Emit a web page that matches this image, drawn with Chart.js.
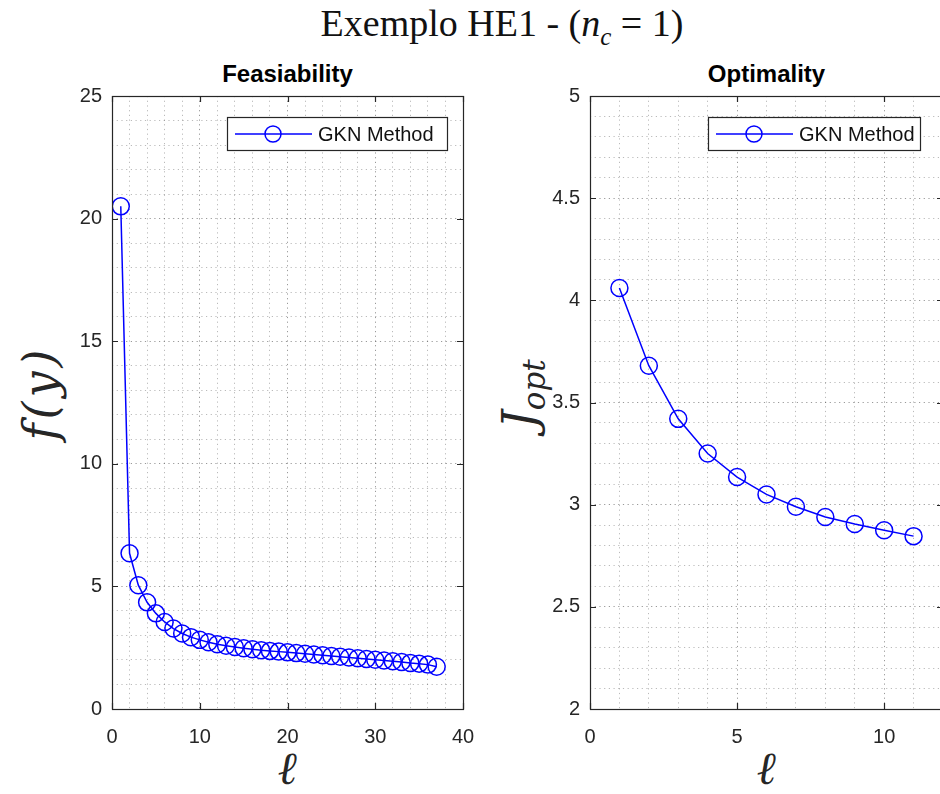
<!DOCTYPE html>
<html>
<head>
<meta charset="utf-8">
<script src="https://cdn.jsdelivr.net/npm/chart.js@4.4.1/dist/chart.umd.min.js"></script>
<style>
  html, body { margin:0; padding:0; background:#fff; width:940px; height:794px; overflow:hidden; }
  #wrap { position:relative; width:940px; height:794px; overflow:hidden; }
  canvas { position:absolute; }
  .lbl { position:absolute; color:#262626; white-space:nowrap; }
  .title { font-family:"Liberation Serif", serif; font-size:38px; color:#111; left:32px; width:940px; text-align:center; top:1px; }
  .sub { font-family:"Liberation Sans", Arial, sans-serif; font-weight:bold; font-size:24px; color:#000; text-align:center; }
  .ax { font-family:"DejaVu Serif", serif; font-style:italic; font-size:46px; color:#262626; }
</style>
</head>
<body>
<div id="wrap">
  <div class="lbl title">Exemplo HE1 - (<i>n</i><sub style="font-size:25px;font-style:italic">c</sub> = 1)</div>
  <div class="lbl sub" style="left:112px;width:351px;top:60px;">Feasiability</div>
  <div class="lbl sub" style="left:590px;width:353px;top:60px;">Optimality</div>
  <div class="lbl ax" style="left:40px;top:393px;letter-spacing:4px;transform:translate(-50%,-50%) rotate(-90deg);">f(y)</div>
  <div class="lbl ax" style="left:522px;top:394px;transform:translate(-50%,-50%) rotate(-90deg);">J<sub style="font-size:31px;">opt</sub></div>
  <div class="lbl ax" style="left:287px;top:768px;transform:translate(-50%,-50%);">ℓ</div>
  <div class="lbl ax" style="left:766px;top:768px;transform:translate(-50%,-50%);">ℓ</div>
  <canvas id="c1" width="480" height="734" style="left:0;top:60px;"></canvas>
  <canvas id="c2" width="480" height="734" style="left:480px;top:60px;"></canvas>
</div>
<script>
// ---- data ----
const feasIter = [1,2,3,4,5,6,7,8,9,10,11,12,13,14,15,16,17,18,19,20,21,22,23,24,25,26,27,28,29,30,31,32,33,34,35,36,37];
const feasValues = [20.5,6.35,5.05,4.35,3.9,3.55,3.28,3.08,2.93,2.82,2.72,2.64,2.58,2.53,2.48,2.44,2.40,2.37,2.34,2.31,2.28,2.25,2.22,2.19,2.16,2.13,2.10,2.07,2.04,2.01,1.98,1.95,1.92,1.88,1.85,1.81,1.72];
const optIter = [1,2,3,4,5,6,7,8,9,10,11];
const optValues = [4.06,3.68,3.42,3.25,3.135,3.05,2.99,2.94,2.905,2.875,2.846];
const seriesName = "GKN Method";
const leftXTicks = [0,10,20,30,40];
const leftYTicks = [0,5,10,15,20,25];
const rightXTicks = [0,5,10];
const rightYTicks = [2,2.5,3,3.5,4,4.5,5];

const BLUE = 'rgb(0,0,255)';
const AXC = '#262626';
const TICKFONT = {family:'"Liberation Sans", Arial, sans-serif', size:20};

function isMajor(v, list){ return list.some(t => Math.abs(t - v) < 1e-6); }

const boxPlugin = {
  id:'boxPlugin',
  afterDraw(chart, args, opts){
    const {ctx, chartArea:a, scales} = chart;
    ctx.save();
    ctx.strokeStyle = AXC; ctx.lineWidth = 1.2;
    const tl = 6;
    opts.xMajors.forEach(v => {
      const px = Math.round(scales.x.getPixelForValue(v)) + 0.5;
      ctx.beginPath(); ctx.moveTo(px, a.bottom); ctx.lineTo(px, a.bottom - tl);
      ctx.moveTo(px, a.top); ctx.lineTo(px, a.top + tl); ctx.stroke();
    });
    opts.yMajors.forEach(v => {
      const py = Math.round(scales.y.getPixelForValue(v)) + 0.5;
      ctx.beginPath(); ctx.moveTo(a.left, py); ctx.lineTo(a.left + tl, py);
      ctx.moveTo(a.right, py); ctx.lineTo(a.right - tl, py); ctx.stroke();
    });
    ctx.strokeRect(Math.round(a.left)+0.5, Math.round(a.top)+0.5, Math.round(a.right-a.left), Math.round(a.bottom-a.top));
    // legend
    const lx = a.left + opts.legX, ly = a.top + 21, lw = opts.legW, lh = 33;
    ctx.fillStyle = '#fff';
    ctx.fillRect(lx, ly, lw, lh);
    ctx.strokeStyle = AXC; ctx.lineWidth = 1.2;
    ctx.strokeRect(lx+0.5, ly+0.5, lw, lh);
    const cy = ly + lh/2 + 0.5;
    ctx.strokeStyle = BLUE; ctx.lineWidth = 1.5;
    ctx.beginPath(); ctx.moveTo(lx+8, cy); ctx.lineTo(lx+85, cy); ctx.stroke();
    ctx.beginPath(); ctx.arc(lx+46, cy, 8, 0, Math.PI*2); ctx.stroke();
    ctx.fillStyle = '#111';
    ctx.font = '20px "Liberation Sans", Arial, sans-serif';
    ctx.textBaseline = 'middle'; ctx.textAlign = 'left';
    ctx.fillText(seriesName, lx+91, cy+1);
    ctx.restore();
  }
};

function makeChart(id, xs, ys, xr, yr, xMaj, yMaj, xStep, yStep, yW, padR, legX, legW){
  const dataPts = xs.map((x,i) => ({x:x, y:ys[i]}));
  return new Chart(document.getElementById(id), {
    type:'line',
    data:{ datasets:[{
      label: seriesName, data: dataPts,
      borderColor: BLUE, borderWidth:1.5, backgroundColor:'rgba(0,0,0,0)',
      pointRadius:8.5, pointHoverRadius:8.5, pointBorderWidth:1.5, pointBorderColor:BLUE,
      pointBackgroundColor:'rgba(0,0,0,0)', tension:0, fill:false
    }]},
    options:{
      responsive:false, animation:false, devicePixelRatio:1,
      layout:{ padding:{ top:36, right:padR, left:0, bottom:0 } },
      plugins:{ legend:{display:false}, tooltip:{enabled:false},
        boxPlugin:{ xMajors:xMaj, yMajors:yMaj, legX:legX, legW:legW } },
      scales:{
        x:{ type:'linear', min:xr[0], max:xr[1],
          afterFit: s => { s.height = 85; s.paddingLeft = 0; s.paddingRight = 0; },
          border:{ display:false, dash:[1.2,3.5] },
          grid:{ drawTicks:false, lineWidth:1,
            color: c => isMajor(c.tick.value, xMaj) ? 'rgba(0,0,0,0.4)' : 'rgba(0,0,0,0.27)' },
          ticks:{ stepSize:xStep, autoSkip:false, maxRotation:0, padding:16, color:AXC, font:TICKFONT,
            callback: v => isMajor(v, xMaj) ? String(v) : '' }
        },
        y:{ type:'linear', min:yr[0], max:yr[1],
          afterFit: s => { s.width = yW; s.paddingTop = 0; s.paddingBottom = 0; },
          border:{ display:false, dash:[1.2,3.5] },
          grid:{ drawTicks:false, lineWidth:1,
            color: c => isMajor(c.tick.value, yMaj) ? 'rgba(0,0,0,0.4)' : 'rgba(0,0,0,0.27)' },
          ticks:{ stepSize:yStep, autoSkip:false, padding:10, color:AXC, font:TICKFONT,
            callback: v => isMajor(v, yMaj) ? String(Number(v.toFixed(2))) : '' }
        }
      }
    },
    plugins:[boxPlugin]
  });
}

makeChart('c1', feasIter, feasValues, [0,40], [0,25], leftXTicks, leftYTicks, 2, 1, 112, 17, 115, 220);
makeChart('c2', optIter, optValues, [0,12], [2,5], rightXTicks, rightYTicks, 1, 0.1, 110, 17, 118, 212);
</script>
</body>
</html>
